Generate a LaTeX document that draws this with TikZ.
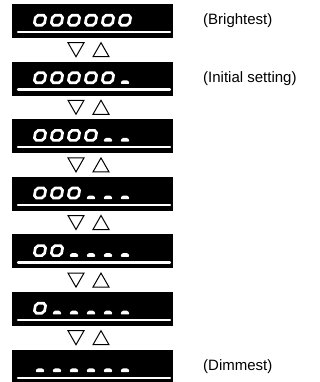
\documentclass[tikz,border=0pt]{standalone}
\usepackage{fontspec}
\setmainfont{Liberation Sans}
\begin{document}
\begin{tikzpicture}[x=1pt,y=-1pt,
  dispbox/.style={fill=black,draw=none,minimum width=161pt,minimum height=34pt,inner sep=0pt},
  scaleline/.style={white,line width=2.2pt,line cap=round},
  tri/.style={draw=black,line width=1pt,line join=miter},
  lbl/.style={anchor=west,inner sep=0pt,font=\fontsize{15}{18}\selectfont},
  zero/.pic={\draw[white,line width=2.7pt,xslant=0.18]
      (2.4,0)--(7.8,0)--(10.2,2.4)--(10.2,7.6)--(7.8,10)--(2.4,10)--(0,7.6)--(0,2.4)--cycle;},
  dash/.pic={\fill[white,rounded corners=1.2pt]
      (2.3,12.4)--(4,8.7)--(10,8.7)--(11.7,12.4)--cycle;}
]
\useasboundingbox (0,0) rectangle (320,382);
\foreach \i in {0,...,6}{
  \pgfmathsetmacro\ty{4+57.6*\i}
  \pgfmathtruncatemacro\nz{6-\i}
  \node[dispbox] (box\i) at (92.5,\ty+17) {};
  \draw[scaleline] (18,\ty+28) -- (170,\ty+28);
  \foreach \k in {0,...,5}{
    \pgfmathsetmacro\xx{33+17*\k}
    \ifnum\k<\nz
      \pic at (\xx+2.8,\ty+11.2) {zero};
    \else
      \pic at (\xx,\ty+10) {dash};
    \fi
  }
}
\foreach \i in {0,...,5}{
  \pgfmathsetmacro\cy{4+57.6*\i+45.7}
  \draw[tri] (68,\cy-7) -- (84,\cy-7) -- (76,\cy+7) -- cycle;
  \draw[tri] (93,\cy+7) -- (109,\cy+7) -- (101,\cy-7) -- cycle;
}
\node[lbl] (l0) at (203,4+17) {(Brightest)};
\node[lbl] (l1) at (203,4+57.6+17) {(Initial setting)};
\node[lbl] (l6) at (203,4+57.6*6+17) {(Dimmest)};
\end{tikzpicture}
\end{document}
